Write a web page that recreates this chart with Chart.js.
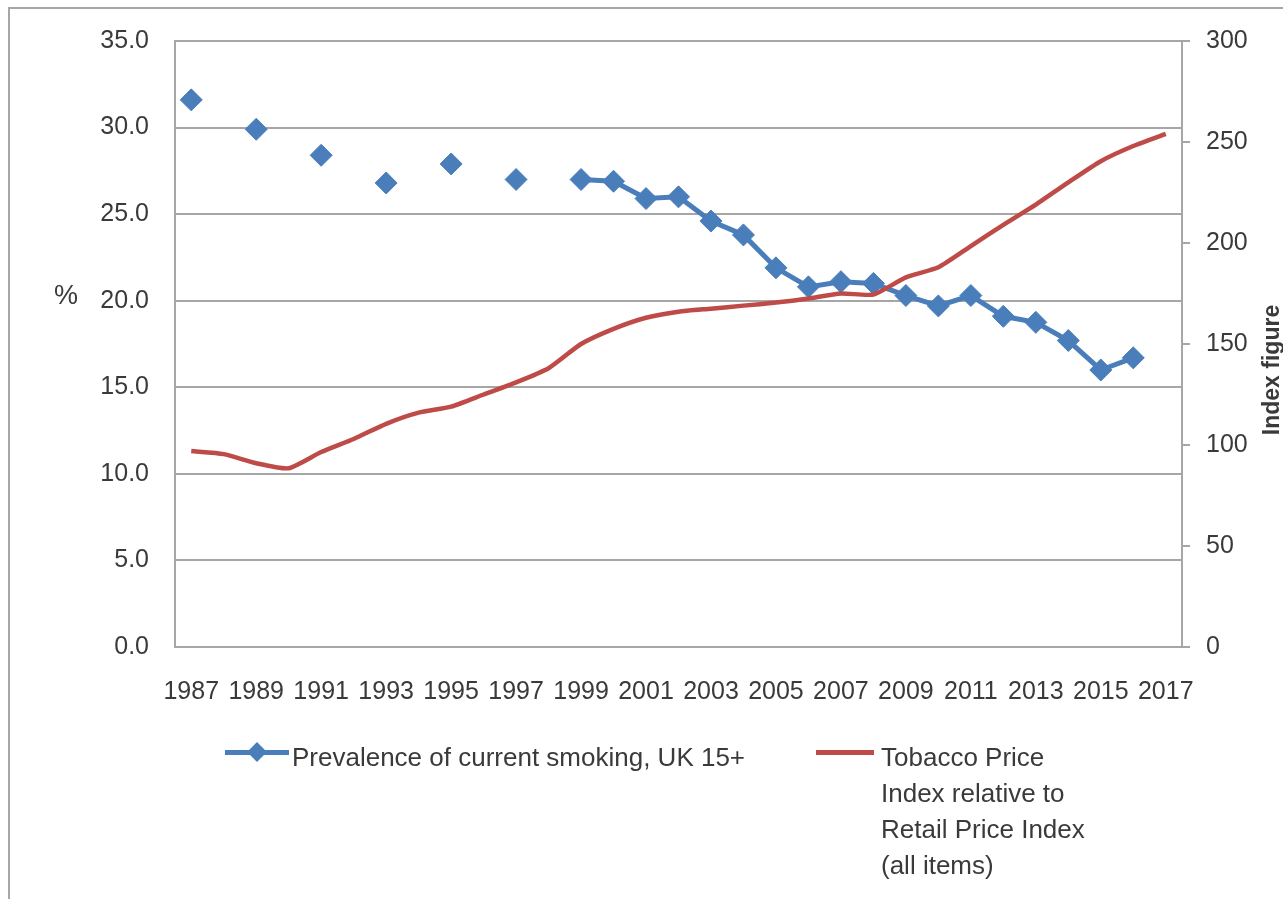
<!DOCTYPE html>
<html>
<head>
<meta charset="utf-8">
<script src="https://cdn.jsdelivr.net/npm/chart.js@4"></script>
<style>
  body { margin: 0; background: #fff; overflow: hidden; }
  #frame { position: absolute; left: 8px; top: 7px; width: 1300px; height: 920px; border: 2px solid #a6a6a6; }
  #wrap { position: absolute; left: 0; top: 0; width: 1283px; height: 899px; }
  .leg { position: absolute; font: 26px "Liberation Sans", Arial, sans-serif; color: #3a3a3a; line-height: 36px; white-space: nowrap; }
  .mark { position: absolute; height: 5px; }
  .dia { position: absolute; width: 14px; height: 14px; transform: rotate(45deg); }
</style>
</head>
<body>
<div id="frame"></div>
<div id="wrap"><canvas id="smokingChart" width="1283" height="899"></canvas></div>
<div id="legend"></div>
<script>
// years on the category axis
var years = [1987, 1988, 1989, 1990, 1991, 1992, 1993, 1994, 1995, 1996, 1997, 1998, 1999, 2000, 2001,
             2002, 2003, 2004, 2005, 2006, 2007, 2008, 2009, 2010, 2011, 2012, 2013, 2014, 2015, 2016, 2017];

// % smoking, survey only every other year before 1999
var prevalence = [31.6, null, 29.9, null, 28.4, null, 26.8, null, 27.9, null, 27.0, null, 27.0, 26.9, 25.9,
                  26.0, 24.6, 23.8, 21.9, 20.8, 21.1, 21.0, 20.3, 19.7, 20.3, 19.1, 18.75, 17.7, 16.0, 16.7, null];

// tobacco price index relative to RPI
var priceIndex = [97, 95.5, 91, 88.5, 96.5, 103, 110.5, 116, 119, 125, 131, 138, 150, 157.5, 163,
                  166, 167.5, 169, 170.5, 172.5, 175, 174.5, 183, 188, 198.5, 209, 219, 230, 240.5, 248, 254];

var leftTicks = [0, 5, 10, 15, 20, 25, 30, 35];
var rightTicks = [0, 50, 100, 150, 200, 250, 300];

var prevalenceLabel = 'Prevalence of current smoking, UK 15+';
var priceLabel = ['Tobacco Price', 'Index relative to', 'Retail Price Index', '(all items)'];

var blue = '#4a7ebb';
var red = '#be4b48';
var gridColor = '#a6a6a6';
var textColor = '#3a3a3a';
var fontFamily = '"Liberation Sans", Arial, sans-serif';

var axisTitles = {
    id: 'axisTitles',
    afterDraw: function(chart) {
        var ctx = chart.ctx;
        var area = chart.chartArea;
        ctx.save();
        ctx.fillStyle = textColor;
        ctx.textAlign = 'center';
        ctx.textBaseline = 'middle';
        ctx.font = '27px ' + fontFamily;
        ctx.fillText('%', 66, chart.scales.y.getPixelForValue(20) - 4);
        ctx.font = 'bold 23px ' + fontFamily;
        ctx.translate(1273, (area.top + area.bottom) / 2 + 26);
        ctx.rotate(-Math.PI / 2);
        ctx.fillText('Index figure', 0, 0);
        ctx.restore();
    }
};

var ctx = document.getElementById('smokingChart').getContext('2d');
var smokingChart = new Chart(ctx, {
    type: 'line',
    data: {
        labels: years,
        datasets: [
            {
                label: prevalenceLabel,
                data: prevalence,
                yAxisID: 'y',
                borderColor: blue,
                backgroundColor: blue,
                borderWidth: 5,
                pointStyle: 'rectRot',
                pointRadius: 11,
                pointBorderWidth: 1,
                spanGaps: false,
                tension: 0,
                order: 1
            },
            {
                label: priceLabel.join(' '),
                data: priceIndex,
                yAxisID: 'y1',
                borderColor: red,
                backgroundColor: red,
                borderWidth: 4.5,
                pointRadius: 0,
                tension: 0.2,
                order: 0
            }
        ]
    },
    options: {
        responsive: false,
        animation: false,
        layout: { padding: { top: 40, left: 0, right: 0, bottom: 0 } },
        plugins: {
            legend: { display: false },
            tooltip: { enabled: false }
        },
        scales: {
            x: {
                offset: true,
                grid: { display: false, drawTicks: false },
                border: { display: false },
                ticks: {
                    autoSkip: false,
                    maxRotation: 0,
                    padding: 30,
                    color: textColor,
                    font: { family: fontFamily, size: 25 },
                    callback: function(v, i) { return i % 2 === 0 ? String(years[i]) : ''; }
                },
                afterFit: function(scale) { scale.height = 252; }
            },
            y: {
                position: 'left',
                min: leftTicks[0],
                max: leftTicks[leftTicks.length - 1],
                afterBuildTicks: function(scale) {
                    scale.ticks = leftTicks.map(function(v) { return { value: v }; });
                },
                grid: { color: gridColor, lineWidth: 2, drawTicks: false },
                border: { display: true, color: gridColor, width: 2 },
                ticks: {
                    padding: 26,
                    color: textColor,
                    font: { family: fontFamily, size: 25 },
                    callback: function(v) { return v.toFixed(1); }
                },
                afterFit: function(scale) { scale.width = 175; }
            },
            y1: {
                position: 'right',
                min: rightTicks[0],
                max: rightTicks[rightTicks.length - 1],
                afterBuildTicks: function(scale) {
                    scale.ticks = rightTicks.map(function(v) { return { value: v }; });
                },
                grid: { drawOnChartArea: false, drawTicks: true, tickLength: 8, color: gridColor, lineWidth: 2 },
                border: { display: true, color: gridColor, width: 2 },
                ticks: {
                    padding: 16,
                    color: textColor,
                    font: { family: fontFamily, size: 25 }
                },
                afterFit: function(scale) { scale.width = 101; }
            }
        }
    },
    plugins: [axisTitles]
});

// legend below the plot, the red label wraps over four lines like the original
var legend = document.getElementById('legend');
legend.innerHTML =
    '<div class="mark" style="left:225px;top:750px;width:64px;background:' + blue + '"></div>' +
    '<div class="dia" style="left:250px;top:745px;background:' + blue + '"></div>' +
    '<div class="leg" style="left:292px;top:739px">' + prevalenceLabel + '</div>' +
    '<div class="mark" style="left:816px;top:750px;width:58px;background:' + red + '"></div>' +
    '<div class="leg" style="left:881px;top:739px">' + priceLabel.join('<br>') + '</div>';
</script>
</body>
</html>
